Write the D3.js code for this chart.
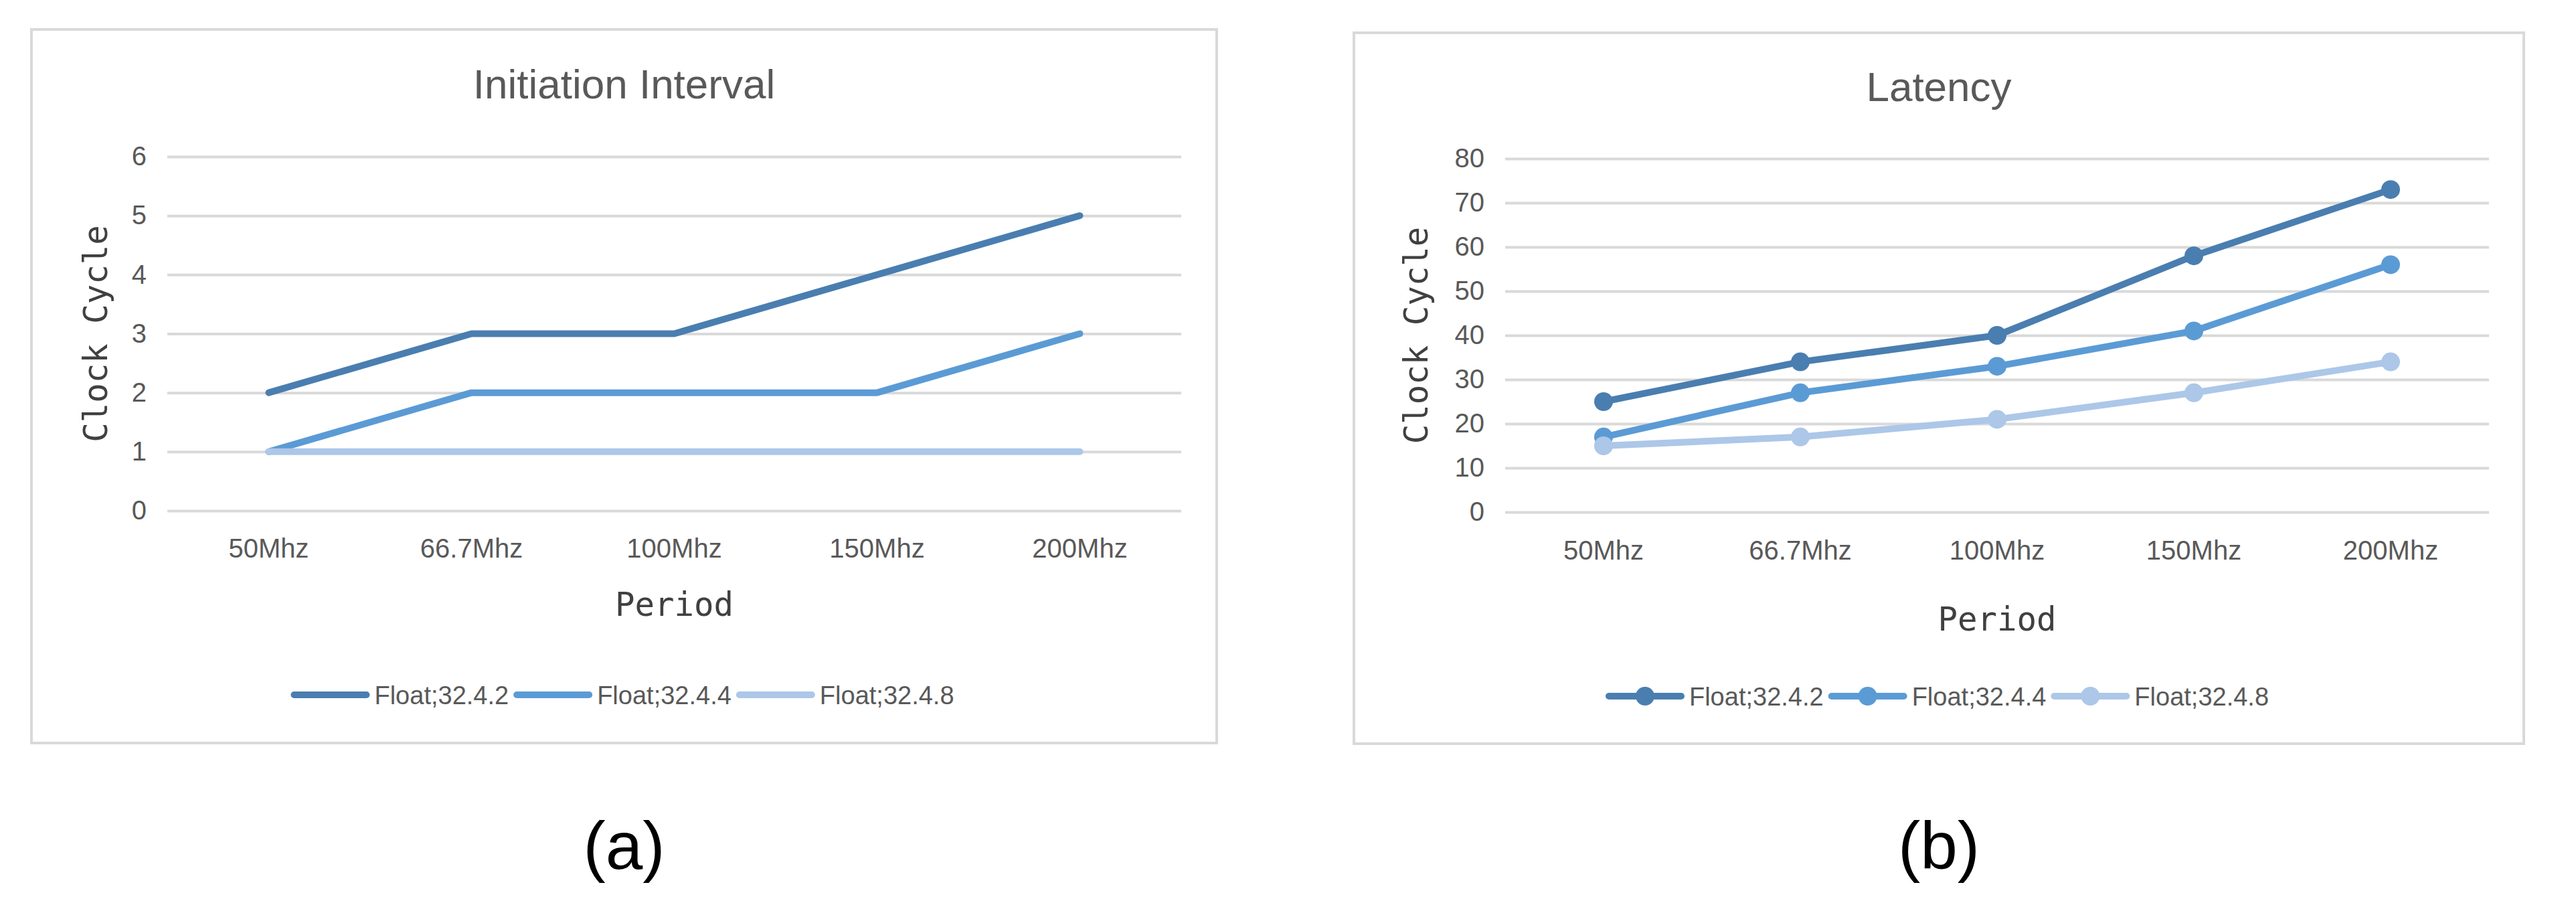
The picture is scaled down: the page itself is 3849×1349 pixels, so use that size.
<!DOCTYPE html>
<html>
<head>
<meta charset="utf-8">
<script src="https://cdn.jsdelivr.net/npm/d3@7"></script>
<style>
  body { margin: 0; background: #fff; overflow: hidden; }
</style>
</head>
<body>
<div id="chartId"></div>
<script>
// data
const periods = ["50Mhz", "66.7Mhz", "100Mhz", "150Mhz", "200Mhz"];
const seriesNames = ["Float;32.4.2", "Float;32.4.4", "Float;32.4.8"];
const iiValues = [
  [2, 3, 3, 4, 5],
  [1, 2, 2, 2, 3],
  [1, 1, 1, 1, 1]
];
const latencyValues = [
  [25, 34, 40, 58, 73],
  [17, 27, 33, 41, 56],
  [15, 17, 21, 27, 34]
];
const iiTicks = [0, 1, 2, 3, 4, 5, 6];
const latencyTicks = [0, 10, 20, 30, 40, 50, 60, 70, 80];
const colors = ["#4a7eb0", "#5b9bd5", "#acc7e8"];

const sansFont = "'Liberation Sans', Arial, sans-serif";
const monoFont = "'DejaVu Sans Mono', monospace";

const svg = d3.select("div#chartId")
  .append("svg")
  .attr("width", 3849)
  .attr("height", 1349)
  .style("display", "block");

function drawChart(opt) {
  const g = svg.append("g");

  // outer chart border
  g.append("rect")
    .attr("x", opt.frame[0])
    .attr("y", opt.frame[1])
    .attr("width", opt.frame[2] - opt.frame[0])
    .attr("height", opt.frame[3] - opt.frame[1])
    .attr("fill", "#fff")
    .attr("stroke", "#d9d9d9")
    .attr("stroke-width", 4);

  const frameMid = (opt.frame[0] + opt.frame[2]) / 2;
  const plotMid = (opt.left + opt.right) / 2;

  const x = d3.scaleBand().domain(periods).range([opt.left, opt.right]);
  const y = d3.scaleLinear().domain([0, d3.max(opt.ticks)]).range([opt.bottom, opt.top]);
  const cx = i => x(periods[i]) + x.bandwidth() / 2;

  // gridlines + y labels
  const yAxis = g.append("g")
    .attr("transform", `translate(${opt.left},0)`)
    .call(d3.axisLeft(y)
      .tickValues(opt.ticks)
      .tickFormat(d3.format("d"))
      .tickSize(-(opt.right - opt.left))
      .tickPadding(31));
  yAxis.select(".domain").remove();
  yAxis.selectAll("line").attr("stroke", "#d9d9d9").attr("stroke-width", 4);
  yAxis.selectAll("text")
    .attr("fill", "#595959")
    .style("font-family", sansFont)
    .style("font-size", "40px");

  // category labels
  const xAxis = g.append("g")
    .attr("transform", `translate(0,${opt.bottom})`)
    .call(d3.axisBottom(x).tickSize(0));
  xAxis.select(".domain").remove();
  xAxis.selectAll("text")
    .attr("y", opt.xLabelY - opt.bottom)
    .attr("dy", null)
    .attr("fill", "#595959")
    .style("font-family", sansFont)
    .style("font-size", "40px");

  // series lines
  const line = d3.line().x((d, i) => cx(i)).y(d => y(d));
  opt.values.forEach((vals, s) => {
    g.append("path")
      .datum(vals)
      .attr("d", line)
      .attr("fill", "none")
      .attr("stroke", colors[s])
      .attr("stroke-width", 10)
      .attr("stroke-linecap", "round")
      .attr("stroke-linejoin", "round");
    if (opt.markers) {
      g.selectAll(null)
        .data(vals)
        .enter()
        .append("circle")
        .attr("cx", (d, i) => cx(i))
        .attr("cy", d => y(d))
        .attr("r", 14)
        .attr("fill", colors[s]);
    }
  });

  // chart title
  g.append("text")
    .attr("x", frameMid)
    .attr("y", opt.titleY)
    .attr("text-anchor", "middle")
    .attr("fill", "#595959")
    .style("font-family", sansFont)
    .style("font-size", "62px")
    .text(opt.title);

  // axis titles
  g.append("text")
    .attr("transform", `translate(${opt.yTitleX},${(opt.top + opt.bottom) / 2}) rotate(-90)`)
    .attr("text-anchor", "middle")
    .attr("dy", "0.35em")
    .attr("fill", "#404040")
    .style("font-family", monoFont)
    .style("font-size", "49px")
    .text("Clock Cycle");

  g.append("text")
    .attr("x", plotMid)
    .attr("y", opt.xTitleY)
    .attr("text-anchor", "middle")
    .attr("fill", "#404040")
    .style("font-family", monoFont)
    .style("font-size", "49px")
    .text("Period");

  // legend, centred on the border box
  const lg = g.append("g");
  const items = seriesNames.map((name, s) => {
    const it = lg.append("g");
    it.append("line")
      .attr("x1", 0).attr("x2", 108)
      .attr("y1", 0).attr("y2", 0)
      .attr("stroke", colors[s])
      .attr("stroke-width", 10)
      .attr("stroke-linecap", "round");
    if (opt.markers) {
      it.append("circle").attr("cx", 54).attr("cy", 0).attr("r", 14).attr("fill", colors[s]);
    }
    const t = it.append("text")
      .attr("x", 120)
      .attr("y", 14)
      .attr("fill", "#595959")
      .style("font-family", sansFont)
      .style("font-size", "38px")
      .text(name);
    return { it, w: 120 + t.node().getComputedTextLength() + 12 };
  });
  const total = d3.sum(items, d => d.w) - 12;
  let pos = frameMid - total / 2;
  items.forEach(d => {
    d.it.attr("transform", `translate(${pos},${opt.legendY})`);
    pos += d.w;
  });

  // caption below the box
  g.append("text")
    .attr("x", frameMid)
    .attr("y", 1298)
    .attr("text-anchor", "middle")
    .attr("fill", "#000")
    .style("font-family", sansFont)
    .style("font-size", "100px")
    .text(opt.caption);
}

drawChart({
  title: "Initiation Interval",
  caption: "(a)",
  values: iiValues,
  ticks: iiTicks,
  markers: false,
  frame: [47, 44, 1818, 1110],
  left: 250, right: 1765, top: 234, bottom: 763,
  titleY: 147, xLabelY: 833, xTitleY: 920, yTitleX: 143, legendY: 1038
});

drawChart({
  title: "Latency",
  caption: "(b)",
  values: latencyValues,
  ticks: latencyTicks,
  markers: true,
  frame: [2023, 49, 3771, 1111],
  left: 2249, right: 3719, top: 237, bottom: 765,
  titleY: 151, xLabelY: 836, xTitleY: 942, yTitleX: 2116, legendY: 1040
});
</script>
</body>
</html>
